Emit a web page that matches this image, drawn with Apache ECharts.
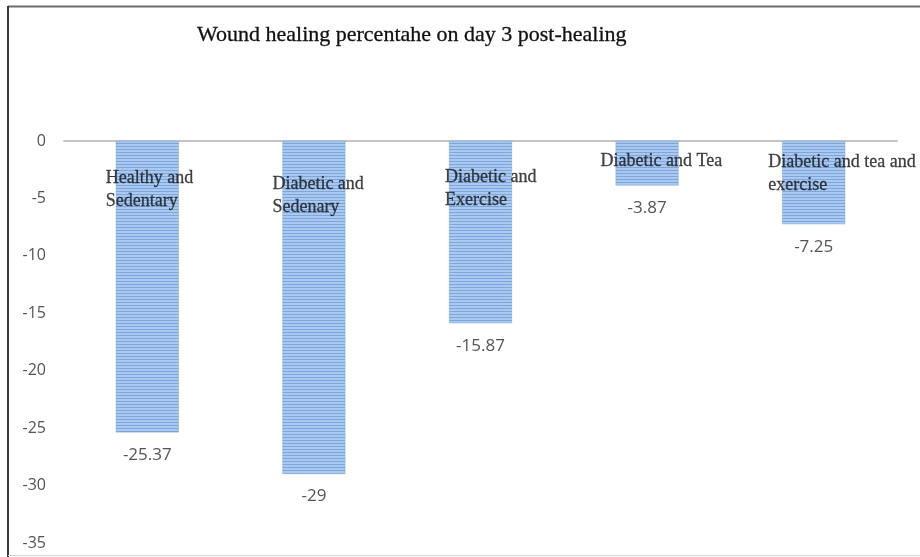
<!DOCTYPE html>
<html>
<head>
<meta charset="utf-8">
<script src="https://cdn.jsdelivr.net/npm/echarts@6/dist/echarts.min.js"></script>
<style>
  html, body { margin: 0; padding: 0; background: #fff; }
  #chart { width: 920px; height: 557px; }
</style>
</head>
<body>
<div id="chart"></div>
<script>
// Group names (line breaks as they are laid out under the zero line)
const categories = [
  'Healthy and\nSedentary',
  'Diabetic and\nSedenary',
  'Diabetic and\nExercise',
  'Diabetic and Tea',
  'Diabetic and tea and\nexercise'
];
// Wound healing percentage on day 3
const healingValues = [-25.37, -29, -15.87, -3.87, -7.25];
// Value axis ticks
const yTicks = [0, -5, -10, -15, -20, -25, -30, -35];

// Placement of each group name relative to its category centre (px)
const nameOffsets = [[-41, 26], [-41, 32], [-35, 25], [-46, 9], [-45, 10]];

// Horizontally striped fill for the bars
function stripePattern() {
  const c = document.createElement('canvas');
  c.width = 4; c.height = 3;
  const g = c.getContext('2d');
  g.fillStyle = '#a9c9f0';
  g.fillRect(0, 0, 4, 3);
  g.fillStyle = '#7ca6dc';
  g.fillRect(0, 2, 4, 1);
  return c;
}

const chart = echarts.init(document.getElementById('chart'), null, { renderer: 'canvas' });

chart.setOption({
  backgroundColor: '#ffffff',
  animation: false,
  title: {
    text: 'Wound healing percentahe on day 3 post-healing',
    left: 192,
    top: 19,
    textStyle: {
      fontFamily: 'Liberation Serif',
      fontSize: 22,
      fontWeight: 'normal',
      color: '#111111',
      textBorderColor: '#111111',
      textBorderWidth: 0.3
    }
  },
  grid: { left: 64, right: 23, top: 141, bottom: 14, containLabel: false },
  xAxis: {
    type: 'category',
    data: categories,
    position: 'bottom',
    axisLine: { onZero: true, lineStyle: { color: '#c4c4c4', width: 2 } },
    axisTick: { show: false },
    axisLabel: { show: false },
    splitLine: { show: false }
  },
  yAxis: {
    type: 'value',
    min: Math.min(...yTicks),
    max: Math.max(...yTicks),
    interval: 5,
    axisLine: { show: false },
    axisTick: { show: false },
    splitLine: { show: false },
    axisLabel: {
      margin: 18,
      color: '#555555',
      fontFamily: 'Open Sans',
      fontSize: 16
    }
  },
  series: [
    {
      type: 'bar',
      data: healingValues,
      barWidth: 63,
      itemStyle: {
        color: { image: stripePattern(), repeat: 'repeat' },
        borderColor: 'rgba(100,148,210,0.7)',
        borderWidth: 0.5
      },
      label: {
        show: true,
        position: 'bottom',
        distance: 14,
        color: '#555555',
        fontFamily: 'Open Sans',
        fontSize: 17,
        formatter: p => String(p.value)
      }
    },
    {
      type: 'scatter',
      symbolSize: 1,
      itemStyle: { color: 'rgba(0,0,0,0)' },
      silent: true,
      z: 5,
      data: categories.map((c, i) => ({
        value: [i, 0],
        label: {
          show: true,
          position: nameOffsets[i],
          align: 'left',
          verticalAlign: 'top',
          formatter: () => categories[i],
          fontFamily: 'Liberation Serif',
          fontSize: 18,
          lineHeight: 23,
          color: '#151515',
          textBorderColor: '#151515',
          textBorderWidth: 0.3
        }
      }))
    }
  ],
  graphic: [
    { type: 'line', shape: { x1: 8, y1: 6.5, x2: 920, y2: 6.5 }, style: { stroke: '#6a6a6a', lineWidth: 2 } },
    { type: 'line', shape: { x1: 8, y1: 6, x2: 8, y2: 557 }, style: { stroke: '#3a3a3a', lineWidth: 2 } },
    { type: 'line', shape: { x1: 8, y1: 555.5, x2: 920, y2: 555.5 }, style: { stroke: '#d4d4d4', lineWidth: 1 } }
  ]
});
</script>
</body>
</html>
